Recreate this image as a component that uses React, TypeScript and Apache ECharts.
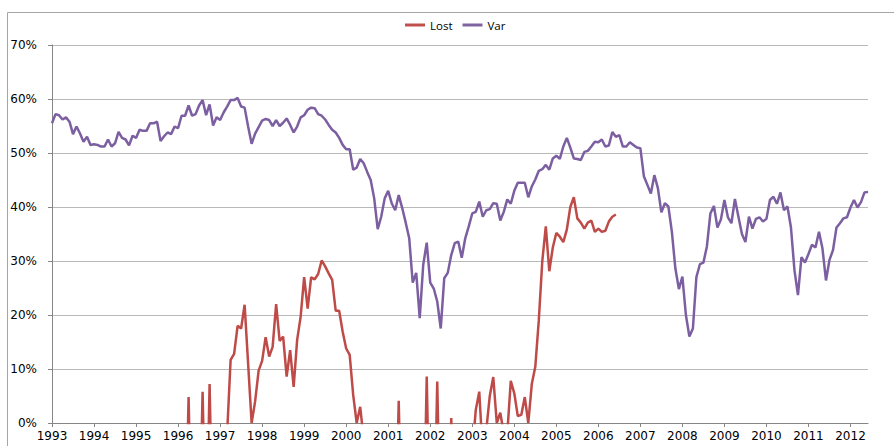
import React, { useEffect, useRef } from "react";
import * as echarts from "echarts";

const years = [1993, 1994, 1995, 1996, 1997, 1998, 1999, 2000, 2001, 2002, 2003, 2004, 2005, 2006, 2007, 2008, 2009, 2010, 2011, 2012];
const lastYearMonths = 6;

// Var series, monthly (%), Jan 1993 .. Jun 2012
const varValues = [
  55.5, 57.2, 57.0, 56.2, 56.6, 55.8, 53.5, 54.9, 53.6, 52.1, 53.0, 51.5,
  51.6, 51.5, 51.2, 51.2, 52.5, 51.2, 51.8, 53.9, 52.8, 52.5, 51.4, 53.2,
  52.8, 54.3, 54.1, 54.1, 55.5, 55.5, 55.8, 52.2, 53.1, 53.8, 53.5, 54.9,
  54.6, 56.9, 56.9, 58.8, 56.9, 57.2, 58.8, 59.8, 57.0, 59.0, 55.1, 56.6,
  56.1, 57.5, 58.6, 59.8, 59.8, 60.2, 58.6, 58.4, 54.9, 51.7, 53.6, 54.8,
  56.0, 56.3, 56.1, 55.0, 56.1, 55.0, 55.6, 56.4, 55.2, 53.8, 54.9, 56.6,
  57.0, 58.0, 58.4, 58.3, 57.2, 56.9, 56.2, 55.2, 54.3, 53.8, 52.8, 51.5,
  50.7, 50.7, 46.9, 47.3, 48.9, 48.1, 46.5, 45.0, 41.6, 35.9, 38.2, 41.6,
  43.0, 40.7, 39.4, 42.2, 39.8, 37.1, 34.2, 26.0, 27.8, 19.4, 29.3, 33.4,
  26.0, 24.9, 22.5, 17.5, 26.8, 27.8, 31.1, 33.3, 33.6, 30.6, 34.2, 36.4,
  38.8, 39.1, 41.0, 38.2, 39.4, 39.6, 40.7, 40.6, 37.5, 39.1, 41.4, 40.6,
  43.0, 44.5, 44.5, 44.5, 41.8, 43.8, 45.1, 46.7, 47.0, 47.8, 46.9, 49.0,
  49.5, 48.9, 51.2, 52.8, 51.0, 49.0, 48.9, 48.7, 50.2, 50.4, 51.2, 52.1,
  52.0, 52.5, 51.2, 51.4, 53.9, 53.0, 53.3, 51.2, 51.2, 52.0, 51.5, 51.0,
  50.9, 45.7, 44.1, 42.5, 45.9, 43.5, 39.0, 40.7, 40.1, 35.4, 28.6, 24.8,
  27.1, 20.0, 16.0, 17.5, 27.0, 29.4, 29.7, 32.7, 38.8, 40.2, 36.2, 37.7,
  41.3, 38.1, 37.0, 41.5, 38.2, 35.0, 33.5, 38.2, 36.0, 37.8, 38.1, 37.3,
  37.8, 41.3, 41.9, 40.6, 42.7, 39.4, 40.1, 36.2, 28.3, 23.7, 30.7, 29.7,
  31.3, 33.0, 32.5, 35.4, 32.3, 26.4, 30.2, 32.0, 36.2, 37.0, 37.9, 38.1,
  39.9, 41.3, 39.9, 40.9, 42.7, 42.8,
];

// Lost series, monthly (%), Jan 1993 .. Jun 2006; values below 0 are clipped by the axis
const lostValues = [
  -25, -25, -25, -25, -25, -25, -25, -25, -25, -25, -25, -25,
  -25, -25, -25, -25, -25, -25, -25, -25, -25, -25, -25, -25,
  -25, -25, -25, -25, -25, -25, -25, -25, -25, -25, -25, -25,
  -25, -25, -25, 4.8, -25, -25, -25, 5.8, -25, 7.2, -25, -25,
  -25, -25, -2, 11.7, 12.8, 18.0, 17.5, 21.9, 11.0, 0, 4.0, 9.7,
  11.5, 15.9, 12.3, 14.1, 22.0, 15.2, 16.0, 8.6, 13.5, 6.7, 15.4, 19.7,
  27.0, 21.2, 27.0, 26.6, 27.6, 30.1, 29.0, 27.7, 26.5, 20.8, 20.8, 16.9,
  13.8, 12.6, 5.2, 0, 3.0, -3, -25, -25, -25, -25, -25, -25,
  -25, -25, -25, 4.1, -25, -25, -25, -25, -25, -25, -25, 8.6,
  -25, -25, 7.7, -25, -25, -25, 0.9, -25, -25, -25, -25, -25,
  -5.5, 2.4, 5.8, -5.8, -1.3, 5.0, 8.5, 0, 1.9, -1.9, -2, 7.8,
  5.5, 1.3, 1.5, 4.8, 0, 7.2, 10.4, 19.0, 30.0, 36.4, 28.1, 32.5,
  35.2, 34.5, 33.5, 35.8, 40.0, 41.8, 37.9, 37.1, 36.0, 37.1, 37.5, 35.4,
  36.0, 35.4, 35.6, 37.3, 38.2, 38.6,
];

const yTicks = [0, 10, 20, 30, 40, 50, 60, 70];

const categories: string[] = [];
years.forEach((y, i) => {
  const n = i === years.length - 1 ? lastYearMonths : 12;
  for (let m = 1; m <= n; m++) categories.push(`${y}-${m < 10 ? "0" + m : m}`);
});

export default function App() {
  const ref = useRef<HTMLDivElement>(null);
  useEffect(() => {
    if (!ref.current) return;
    const chart = echarts.init(ref.current, null, { renderer: "svg" });
    const axisFont = "DejaVu Sans";
    chart.setOption({
      animation: false,
      backgroundColor: "#ffffff",
      graphic: [
        {
          type: "rect",
          z: -1,
          shape: { x: 7.5, y: 12.5, width: 1000, height: 1000 },
          style: { fill: "none", stroke: "#a6a6a6", lineWidth: 1 },
        },
      ],
      legend: {
        data: ["Lost", "Var"],
        left: 400,
        top: 14,
        icon: "rect",
        itemWidth: 20,
        itemHeight: 3,
        itemGap: 10,
        textStyle: { fontFamily: "Open Sans", fontSize: 11.5, color: "#000" },
      },
      grid: { left: 52, top: 45, right: 26, bottom: 23, containLabel: false },
      xAxis: {
        type: "category",
        data: categories,
        boundaryGap: false,
        axisLine: { lineStyle: { color: "#868686", width: 1 } },
        axisTick: {
          show: true,
          length: 4,
          interval: (idx: number) => idx % 12 === 0,
          lineStyle: { color: "#868686" },
        },
        axisLabel: {
          interval: (idx: number) => idx % 12 === 0,
          formatter: (v: string) => v.slice(0, 4),
          fontFamily: axisFont,
          fontSize: 12,
          color: "#000",
          margin: 7,
        },
        splitLine: { show: false },
      },
      yAxis: {
        type: "value",
        min: yTicks[0],
        max: yTicks[yTicks.length - 1],
        interval: 10,
        axisLine: { show: true, lineStyle: { color: "#868686", width: 1 } },
        axisTick: { show: true, length: 4, lineStyle: { color: "#868686" } },
        axisLabel: {
          formatter: "{value}%",
          fontFamily: axisFont,
          fontSize: 12,
          color: "#000",
          margin: 15,
        },
        splitLine: { lineStyle: { color: "#b9b9b9", width: 1 } },
      },
      series: [
        {
          name: "Lost",
          type: "line",
          data: lostValues,
          symbol: "none",
          clip: true,
          color: "#c0504d",
          lineStyle: { color: "#be4b48", width: 2.5 },
          z: 3,
        },
        {
          name: "Var",
          type: "line",
          data: varValues,
          symbol: "none",
          clip: true,
          color: "#8064a2",
          lineStyle: { color: "#7c5fa0", width: 2.5 },
          z: 3,
        },
      ],
    });
    return () => chart.dispose();
  }, []);
  return (
    <div
      ref={ref}
      style={{ position: "absolute", left: 0, top: 0, width: 894, height: 446 }}
    />
  );
}
